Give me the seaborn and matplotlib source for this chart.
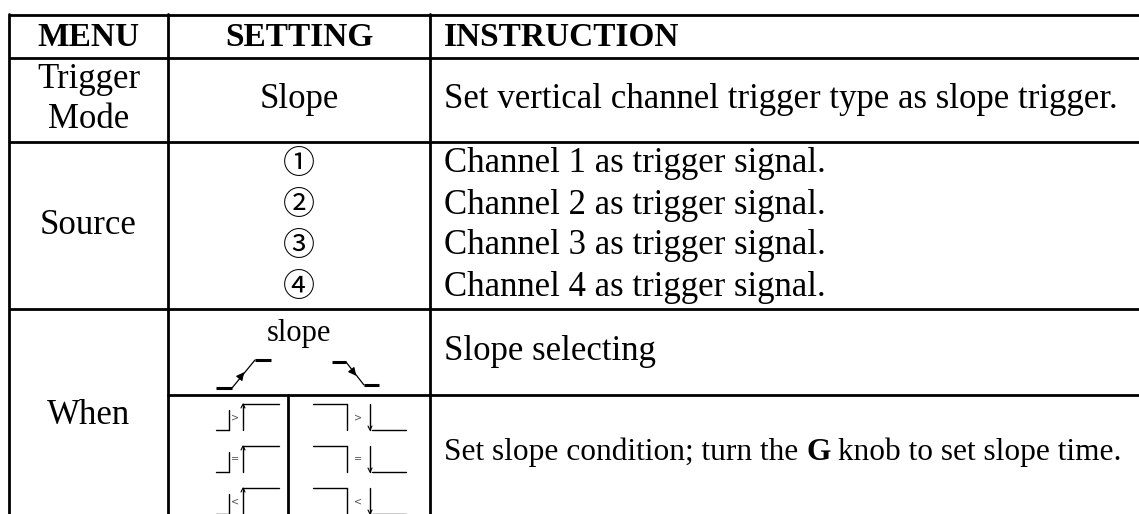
import matplotlib.pyplot as plt
import seaborn as sns

sns.set_theme(style="white")
plt.rcParams['font.family'] = ['Liberation Serif', 'DejaVu Sans']
plt.rcParams['text.color'] = 'black'

# table contents
headers = ['MENU', 'SETTING', 'INSTRUCTION']
menus = ['Trigger\nMode', 'Source', 'When']
settings_src = ['①', '②', '③', '④']
instr_src = ['Channel 1 as trigger signal.', 'Channel 2 as trigger signal.',
             'Channel 3 as trigger signal.', 'Channel 4 as trigger signal.']
instr_mode = 'Set vertical channel trigger type as slope trigger.'
instr_slope = 'Slope selecting'
instr_cond = ['Set slope condition; turn the ', 'G', ' knob to set slope time.']
cond_symbols = ['>', '=', '<']

W, H = 1139, 514
fig = plt.figure(figsize=(W / 100, H / 100), dpi=100)
ax = fig.add_axes([0, 0, 1, 1])
ax.set_xlim(0, W)
ax.set_ylim(H, 0)
ax.axis('off')

lw = 2.0
# grid lines
for y in [15, 58, 142, 309]:
    ax.plot([9, W], [y, y], color='black', lw=lw, solid_capstyle='butt')
ax.plot([168, W], [395, 395], color='black', lw=lw)
for x in [9, 168, 430]:
    ax.plot([x, x], [14, H], color='black', lw=lw)
ax.plot([288, 288], [395, H], color='black', lw=lw)

fs = 25
c1, c2, c3 = 88.5, 299, 444
# header
ax.text(c1, 37, headers[0], ha='center', va='center', fontsize=24, fontweight='bold')
ax.text(c2, 37, headers[1], ha='center', va='center', fontsize=24, fontweight='bold')
ax.text(c3, 37, headers[2], ha='left', va='center', fontsize=24, fontweight='bold')

# trigger mode row
ax.text(c1, 79, 'Trigger', ha='center', va='center', fontsize=fs)
ax.text(c1, 119, 'Mode', ha='center', va='center', fontsize=fs)
ax.text(c2, 100, 'Slope', ha='center', va='center', fontsize=fs)
ax.text(c3, 100, instr_mode, ha='left', va='center', fontsize=fs)

# source row
ax.text(c1, 225, menus[1], ha='center', va='center', fontsize=fs)
for i, (s, t) in enumerate(zip(settings_src, instr_src)):
    y = 164 + i * 41
    ax.text(c2, y, s, ha='center', va='center', fontsize=23, family='Noto Sans CJK JP')
    ax.text(c3, y, t, ha='left', va='center', fontsize=fs)

# when row
ax.text(c1, 416, menus[2], ha='center', va='center', fontsize=fs)
ax.text(c2, 333, 'slope', ha='center', va='center', fontsize=22)
ax.text(c3, 352, instr_slope, ha='left', va='center', fontsize=fs)

# last instruction: plain / bold / plain pieces laid end to end
x = c3
fs_c = 22.6
for part, wt in zip(instr_cond, ['normal', 'bold', 'normal']):
    t = ax.text(x, 452, part, ha='left', va='center', fontsize=fs_c, fontweight=wt)
    fig.canvas.draw()
    x = ax.transData.inverted().transform((t.get_window_extent().x1, 0))[0]

# slope icons
k = 'black'
ax.plot([216, 232], [388, 388], color=k, lw=2.2, solid_capstyle='butt')
ax.plot([232, 255], [388, 360], color=k, lw=0.9)
ax.plot([255, 271], [360, 360], color=k, lw=2.2, solid_capstyle='butt')
ax.annotate('', xy=(246, 370), xytext=(238, 380),
            arrowprops=dict(arrowstyle='-|>', color=k, lw=0.8, mutation_scale=12))
ax.plot([332, 346], [362, 362], color=k, lw=2.2, solid_capstyle='butt')
ax.plot([346, 364], [362, 385], color=k, lw=0.9)
ax.plot([364, 379], [385, 385], color=k, lw=2.2, solid_capstyle='butt')
ax.annotate('', xy=(358, 378), xytext=(350, 368),
            arrowprops=dict(arrowstyle='-|>', color=k, lw=0.8, mutation_scale=12))

# condition icons
for i, sym in enumerate(cond_symbols):
    top = 404 + i * 42
    bot = top + 26
    mid = (top + bot) / 2
    # rising
    ax.plot([216, 229], [bot, bot], color=k, lw=1.0)
    ax.plot([229, 229], [bot, top + 6], color=k, lw=1.0)
    ax.text(235, mid, sym, ha='center', va='center', fontsize=7, color='#555555', family='DejaVu Sans')
    ax.plot([243, 243], [bot, top], color=k, lw=1.0)
    ax.plot([243, 279], [top, top], color=k, lw=1.0)
    ax.plot([241, 243, 245], [top + 4, top, top + 4], color=k, lw=0.8)
    # falling
    ax.plot([313, 347], [top, top], color=k, lw=1.0)
    ax.plot([347, 347], [top, bot], color=k, lw=1.0)
    ax.text(358, mid, sym, ha='center', va='center', fontsize=7, color='#555555', family='DejaVu Sans')
    ax.plot([370, 370], [top, bot], color=k, lw=1.0)
    ax.plot([368, 370, 372], [bot - 4, bot, bot - 4], color=k, lw=0.8)
    ax.plot([372, 406], [bot, bot], color=k, lw=1.0)

fig.savefig('out.png', dpi=100, facecolor='white')
